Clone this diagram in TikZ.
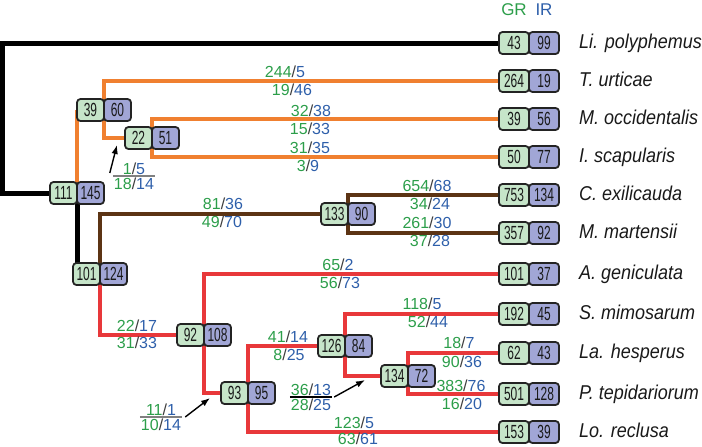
\documentclass[tikz,border=0pt]{standalone}
\usepackage{fontspec}
\setmainfont{Liberation Sans}
\newfontfamily\spfont[FakeStretch=0.9]{Liberation Sans}
\newfontfamily\numfont[FakeStretch=0.63]{Liberation Sans}
\usetikzlibrary{arrows.meta,positioning,backgrounds}

\definecolor{grtext}{RGB}{44,158,74}
\definecolor{irtext}{RGB}{46,95,170}
\definecolor{slashc}{RGB}{60,60,60}
\definecolor{grfill}{RGB}{198,229,201}
\definecolor{irfill}{RGB}{161,166,214}
\definecolor{boxline}{RGB}{35,35,35}
\definecolor{orangeb}{RGB}{240,128,48}
\definecolor{brownb}{RGB}{92,52,20}
\definecolor{redb}{RGB}{232,56,58}

\newcommand{\gri}[2]{\textcolor{grtext}{#1}\textcolor{slashc}{/}\textcolor{irtext}{#2}}

\begin{document}
\begin{tikzpicture}[x=1pt,y=-1pt,>=Latex]
  \tikzstyle{box}=[draw=boxline,line width=1.8pt,rounded corners=3.5pt,minimum width=27pt,minimum height=22pt,inner sep=0pt,outer sep=0pt,font=\numfont\fontsize{19}{19}\selectfont,text=black!90]
  \tikzstyle{grb}=[box,fill=grfill]
  \tikzstyle{irb}=[box,fill=irfill]
  \tikzstyle{leaf}=[minimum width=30pt]
  \tikzstyle{sp}=[inner sep=0pt,font=\spfont\itshape\fontsize{20}{20}\selectfont,text height=14.3pt,text depth=4.2pt,text=black!90]
  \tikzstyle{lbl}=[inner sep=0pt,font=\fontsize{16}{16}\selectfont,text height=11.5pt,text depth=0pt]
  \tikzstyle{frac}=[inner xsep=1pt,inner ysep=0pt,align=center,font=\fontsize{16}{15}\selectfont]
  \tikzstyle{hdr}=[inner sep=0pt,font=\fontsize{17}{17}\selectfont,text height=12pt,text depth=0pt]
  \tikzstyle{arr}=[line width=1.4pt,-{Latex[length=9pt,width=6.5pt]}]
  \tikzstyle{blk}=[line width=5pt,black]
  \tikzstyle{org}=[line width=4.3pt,orangeb]
  \tikzstyle{brn}=[line width=4.3pt,brownb]
  \tikzstyle{rd}=[line width=4.8pt,redb]
  \useasboundingbox (0,0) rectangle (702,447);

  % leaves
  \node[grb,leaf,anchor=east] (lip) at (529,43) {43};
  \node[irb,leaf,right=0pt of lip] (lipb) {99};
  \node[sp,right=20pt of lipb] (lipn) {Li. polyphemus};
  \node[grb,leaf,anchor=east] (tur) at (529,81) {264};
  \node[irb,leaf,right=0pt of tur] (turb) {19};
  \node[sp,right=20pt of turb] (turn) {T. urticae};
  \node[grb,leaf,anchor=east] (moc) at (529,119) {39};
  \node[irb,leaf,right=0pt of moc] (mocb) {56};
  \node[sp,right=20pt of mocb] (mocn) {M. occidentalis};
  \node[grb,leaf,anchor=east] (isc) at (529,157) {50};
  \node[irb,leaf,right=0pt of isc] (iscb) {77};
  \node[sp,right=20pt of iscb] (iscn) {I. scapularis};
  \node[grb,leaf,anchor=east] (cex) at (529,195) {753};
  \node[irb,leaf,right=0pt of cex] (cexb) {134};
  \node[sp,right=20pt of cexb] (cexn) {C. exilicauda};
  \node[grb,leaf,anchor=east] (mma) at (529,233) {357};
  \node[irb,leaf,right=0pt of mma] (mmab) {92};
  \node[sp,right=20pt of mmab] (mman) {M. martensii};
  \node[grb,leaf,anchor=east] (age) at (529,274) {101};
  \node[irb,leaf,right=0pt of age] (ageb) {37};
  \node[sp,right=20pt of ageb] (agen) {A. geniculata};
  \node[grb,leaf,anchor=east] (smi) at (529,314) {192};
  \node[irb,leaf,right=0pt of smi] (smib) {45};
  \node[sp,right=20pt of smib] (smin) {S. mimosarum};
  \node[grb,leaf,anchor=east] (lhe) at (529,353) {62};
  \node[irb,leaf,right=0pt of lhe] (lheb) {43};
  \node[sp,right=20pt of lheb] (lhen) {La. hesperus};
  \node[grb,leaf,anchor=east] (pte) at (529,394) {501};
  \node[irb,leaf,right=0pt of pte] (pteb) {128};
  \node[sp,right=20pt of pteb] (pten) {P. tepidariorum};
  \node[grb,leaf,anchor=east] (lre) at (529,432) {153};
  \node[irb,leaf,right=0pt of lre] (lreb) {39};
  \node[sp,right=20pt of lreb] (lren) {Lo. reclusa};
  \node[hdr,text=grtext,above=16pt of lip] (gr) {GR};
  \node[hdr,text=irtext,above=16pt of lipb] (ir) {IR};

  % inner nodes
  \node[grb,anchor=east] (chel) at (77,193) {111};
  \node[irb,right=0pt of chel] (chelb) {145};
  \node[grb,anchor=east] (acari) at (104,110) {39};
  \node[irb,right=0pt of acari] (acarib) {60};
  \node[grb,anchor=east] (para) at (152,138) {22};
  \node[irb,right=0pt of para] (parab) {51};
  \node[grb,anchor=east] (pulm) at (100,274) {101};
  \node[irb,right=0pt of pulm] (pulmb) {124};
  \node[grb,anchor=east] (scorp) at (348,214) {133};
  \node[irb,right=0pt of scorp] (scorpb) {90};
  \node[grb,anchor=east] (aran) at (204,335) {92};
  \node[irb,right=0pt of aran] (aranb) {108};
  \node[grb,anchor=east] (araneo) at (248,393) {93};
  \node[irb,right=0pt of araneo] (araneob) {95};
  \node[grb,anchor=east] (ent) at (345,346) {126};
  \node[irb,right=0pt of ent] (entb) {84};
  \node[grb,anchor=east] (therid) at (408,376) {134};
  \node[irb,right=0pt of therid] (theridb) {72};

  % branches
  \begin{scope}[on background layer]
    \coordinate (rootl) at (2.5,118);
    \draw[blk] (lip.west) -| (rootl) |- (chel.west);
    \draw[blk] (chel.east) -- (chel.east |- pulm.center);
    \draw[org] (chel.east) -- (chel.east |- acari.center);
    \draw[org] (acari.east) |- (tur.west);
    \draw[org] (acari.east) |- (para.west);
    \draw[org] (para.east) |- (moc.west);
    \draw[org] (para.east) |- (isc.west);
    \draw[brn] (pulm.east) |- (scorp.west);
    \draw[brn] (scorp.east) |- (cex.west);
    \draw[brn] (scorp.east) |- (mma.west);
    \draw[rd] (pulm.east) |- (aran.west);
    \draw[rd] (aran.east) |- (age.west);
    \draw[rd] (aran.east) |- (araneo.west);
    \draw[rd] (araneo.east) |- (ent.west);
    \draw[rd] (araneo.east) |- (lre.west);
    \draw[rd] (ent.east) |- (smi.west);
    \draw[rd] (ent.east) |- (therid.west);
    \draw[rd] (therid.east) |- (lhe.west);
    \draw[rd] (therid.east) |- (pte.west);
  \end{scope}

  % gains / losses on the branches
  \node[lbl] (tur1) at (285,72) {\gri{244}{5}};
  \node[lbl] (tur2) at (292,90) {\gri{19}{46}};
  \node[lbl] (moc1) at (311,111) {\gri{32}{38}};
  \node[lbl] (moc2) at (310,129) {\gri{15}{33}};
  \node[lbl] (isc1) at (310,148) {\gri{31}{35}};
  \node[lbl] (isc2) at (308,166) {\gri{3}{9}};
  \node[lbl] (scorp1) at (223,204) {\gri{81}{36}};
  \node[lbl] (scorp2) at (222,222) {\gri{49}{70}};
  \node[lbl] (cex1) at (427,186) {\gri{654}{68}};
  \node[lbl] (cex2) at (430,204) {\gri{34}{24}};
  \node[lbl] (mma1) at (427,223) {\gri{261}{30}};
  \node[lbl] (mma2) at (430,241) {\gri{37}{28}};
  \node[lbl] (age1) at (338,265) {\gri{65}{2}};
  \node[lbl] (age2) at (340,283) {\gri{56}{73}};
  \node[lbl] (aran1) at (137,326) {\gri{22}{17}};
  \node[lbl] (aran2) at (137,343) {\gri{31}{33}};
  \node[lbl] (smi1) at (422,304) {\gri{118}{5}};
  \node[lbl] (smi2) at (428,322) {\gri{52}{44}};
  \node[lbl] (ent1) at (288,337) {\gri{41}{14}};
  \node[lbl] (ent2) at (289,355) {\gri{8}{25}};
  \node[lbl] (lhe1) at (459,343) {\gri{18}{7}};
  \node[lbl] (lhe2) at (462,362) {\gri{90}{36}};
  \node[lbl] (pte1) at (461,386) {\gri{383}{76}};
  \node[lbl] (pte2) at (462,404) {\gri{16}{20}};
  \node[lbl] (lre1) at (354,423) {\gri{123}{5}};
  \node[lbl] (lre2) at (358,439) {\gri{63}{61}};

  % short branches, pointed at
  \node[frac] (fpara) at (134,176) {\gri{1}{5}\\\gri{18}{14}};
  \draw[gray,line width=1.2pt] (fpara.west) -- (fpara.east);
  \coordinate (ppara) at (117,145);
  \draw[arr] ([xshift=-3pt,yshift=3pt]fpara.west) -- (ppara);
  \node[frac] (faraneo) at (161,417) {\gri{11}{1}\\\gri{10}{14}};
  \draw[gray,line width=1.2pt] (faraneo.west) -- (faraneo.east);
  \coordinate (paraneo) at (210,398);
  \draw[arr] ([xshift=3pt]faraneo.east) -- (paraneo);
  \node[frac] (ftherid) at (311,397) {\gri{36}{13}\\\gri{28}{25}};
  \draw[black,line width=1.2pt] (ftherid.west) -- (ftherid.east);
  \coordinate (ptherid) at (365,380);
  \draw[arr] ([xshift=2pt]ftherid.east) -- (ptherid);
\end{tikzpicture}
\end{document}
